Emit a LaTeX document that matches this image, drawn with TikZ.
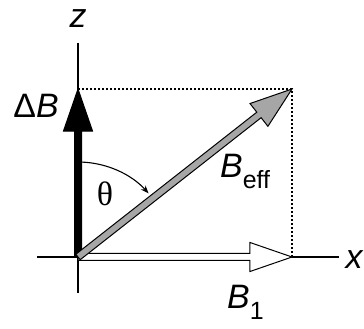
\documentclass[tikz,border=0pt]{standalone}
\usepackage{fontspec}
\setmainfont{Liberation Sans}
\newfontfamily\thetafont{Liberation Serif}
\usetikzlibrary{calc,arrows.meta}

\tikzset{
  axis/.style={line width=1.2bp},
  guide/.style={line width=1.2bp, dash pattern=on 2bp off 2bp},
  lbl/.style={font=\fontsize{34}{40}\selectfont\itshape, inner sep=0pt},
  fieldz/.style={fill=black, draw=black, line width=1bp},
  fieldx/.style={fill=white, draw=black, line width=1bp},
  fieldeff/.style={fill=black!35, draw=black, line width=1bp},
}

% fat arrow: style, from, to
\newcommand\fatarrow[3]{%
  \coordinate (hb) at ($(#3)!42bp!(#2)$);
  \draw[#1] ($(#2)!3.5bp!-90:(#3)$) -- ($(hb)!3.5bp!-90:(#3)$)
    -- ($(hb)!14.5bp!-90:(#3)$) -- (#3) -- ($(hb)!14.5bp!90:(#3)$)
    -- ($(hb)!3.5bp!90:(#3)$) -- ($(#2)!3.5bp!90:(#3)$) -- cycle;
}
\newcommand\sub[1]{\raisebox{-11bp}{\fontsize{25}{28}\selectfont\upshape #1}}

\begin{document}
\begin{tikzpicture}[x=1bp,y=1bp]
\useasboundingbox (0,0) rectangle (364,329);

\coordinate (O) at (78,72);
\coordinate (ztop) at (78,286);
\coordinate (zbot) at (78,36);
\coordinate (xleft) at (37,72);
\coordinate (xright) at (339,72);
\coordinate (dB) at (78,240);
\coordinate (B1) at (292,72);
\coordinate (Beff) at (292,240);

% axes
\draw[axis] (zbot) -- (ztop);
\draw[axis] (xleft) -- (xright);

% projections
\draw[guide] (dB) -- (Beff) -- (B1);

% field vectors
\fatarrow{fieldx}{O}{B1}
\fatarrow{fieldz}{O}{dB}
\fatarrow{fieldeff}{O}{Beff}

% angle
\draw[line width=1.1bp, -{Stealth[length=8bp,width=6bp]}]
  ($(O)+(88:95)$) arc[start angle=88, end angle=42, radius=95];

% labels
\node[lbl, anchor=base] (zlbl) at (78,302) {z};
\node[lbl, anchor=base] (xlbl) at (354,61) {x};
\node[lbl, anchor=base] (dBlbl) at (36,212) {\upshape Δ\itshape B};
\node[lbl, anchor=base] (thlbl) at (105,124) {\thetafont\upshape θ};
\node[lbl, anchor=base west] (Befflbl) at (220,152) {B\sub{eff}};
\node[lbl, anchor=base west] (B1lbl) at (227,21) {B\sub{1}};
\end{tikzpicture}
\end{document}
